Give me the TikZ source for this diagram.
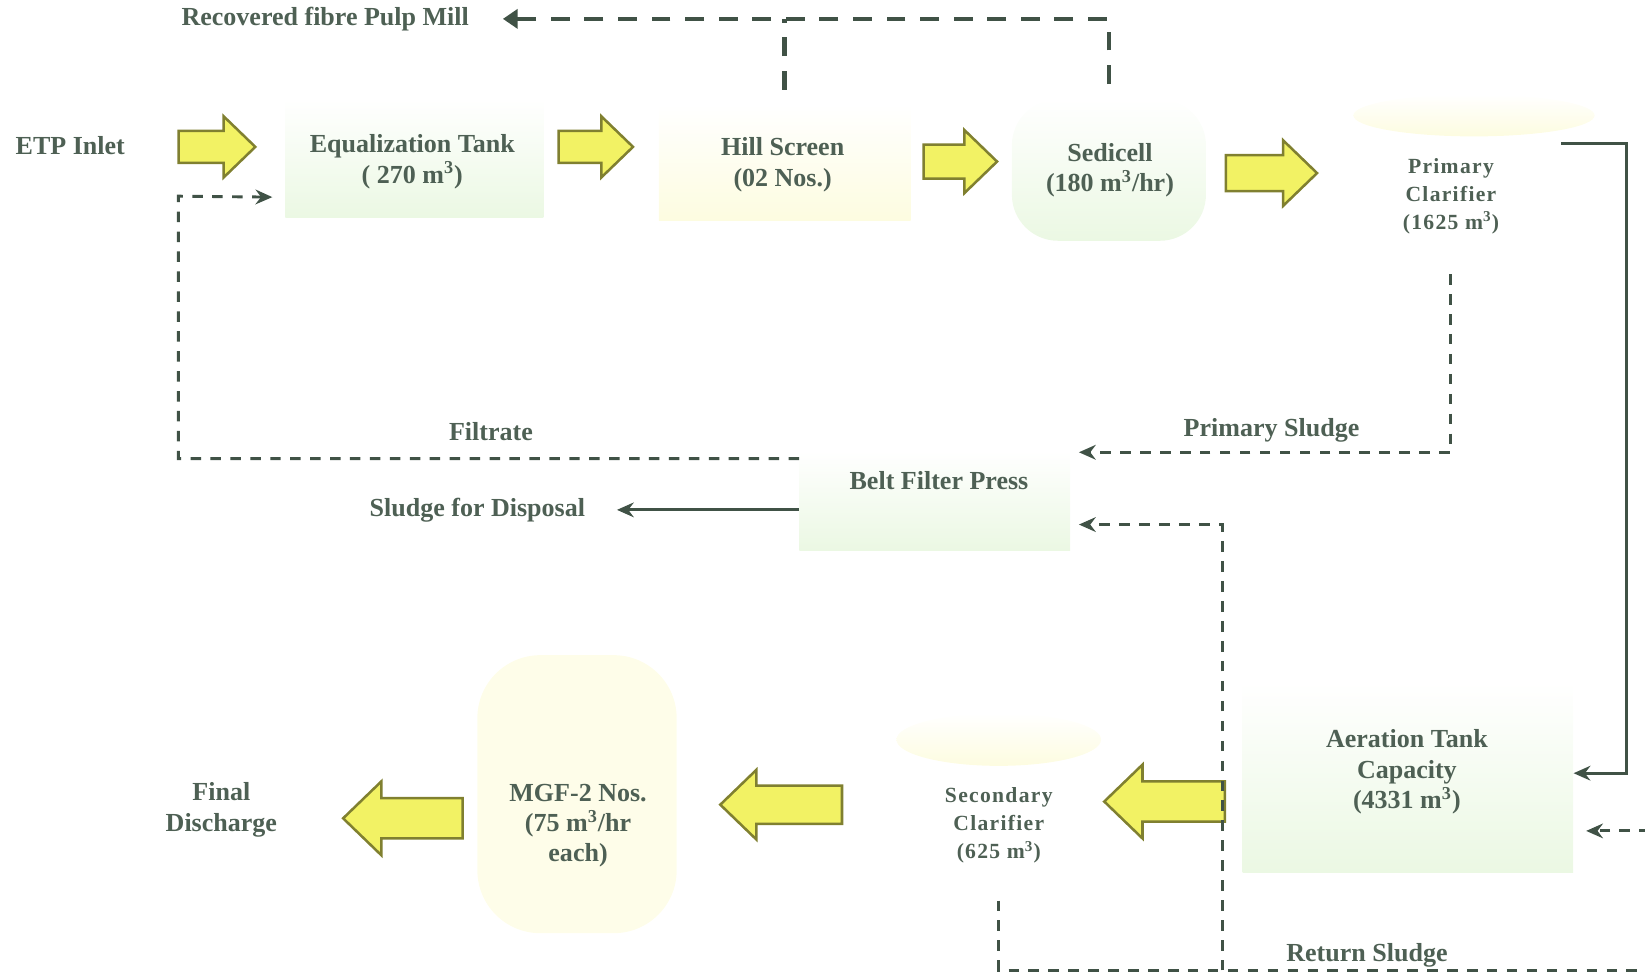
\documentclass[tikz,border=0pt]{standalone}
\usepackage{fontspec}
\setmainfont{Liberation Serif}
\newfontfamily\spacedfont[LetterSpace=6]{Liberation Serif}
\usepackage{tikz}
\usetikzlibrary{shapes.arrows, shapes.geometric, arrows.meta, positioning}
\definecolor{textgrey}{RGB}{78,96,84}
\definecolor{linegrey}{RGB}{64,82,70}
\definecolor{arrowfill}{RGB}{242,242,100}
\definecolor{arrowedge}{RGB}{128,128,48}
\definecolor{tankgreen}{RGB}{235,248,227}
\definecolor{tankyellow}{RGB}{253,252,224}

\begin{document}
\begin{tikzpicture}[
    x=0.5pt, y=-0.5pt,
    txt/.style={font=\fontsize{12.4}{14.5}\selectfont\bfseries, text=textgrey, align=center, inner sep=2pt},
    smalltxt/.style={font=\spacedfont\bfseries\fontsize{10.3}{13.3}\selectfont, text=textgrey, align=center, inner sep=2pt},
    unit/.style={rectangle, draw=none, inner sep=0pt},
    flow/.style={single arrow, draw=arrowedge, fill=arrowfill, line width=1.2pt, inner xsep=0pt, single arrow tip angle=88},
    link/.style={draw=linegrey, line width=1.4pt, -{Stealth[length=8pt, width=7pt]}},
    sludge/.style={link, dash pattern=on 5pt off 4.5pt},
    fibre/.style={draw=linegrey, line width=2.2pt, dash pattern=on 9pt off 7pt, -{Triangle[length=7pt, width=9pt]}}
]
\useasboundingbox (0,0) rectangle (1568,932);

% Tanks (faint backgrounds)
\node[unit, minimum width=123pt, minimum height=56.5pt, top color=white, bottom color=tankgreen] (eqbox) at (395,151) {};
\node[unit, minimum width=120pt, minimum height=55pt, top color=white, bottom color=tankyellow] (hillbox) at (748,155) {};
\node[unit, rounded corners=22pt, minimum width=92.5pt, minimum height=67.5pt, top color=white, bottom color=tankgreen] (sedibox) at (1057,162) {};
\node[ellipse, minimum width=115pt, minimum height=20pt, top color=white, bottom color=tankyellow] (primdish) at (1405,110) {};
\node[unit, minimum width=129pt, minimum height=47.5pt, top color=white, bottom color=tankgreen] (beltbox) at (891,477) {};
\node[unit, minimum width=157.5pt, minimum height=91pt, top color=white, bottom color=tankgreen] (aerbox) at (1342,741) {};
\node[ellipse, minimum width=97.5pt, minimum height=25pt, top color=white, bottom color=tankyellow] (secdish) at (952,705) {};
\node[unit, rounded corners=30pt, minimum width=95pt, minimum height=132.5pt, fill=tankyellow!70] (mgfbox) at (550,757) {};

% Texts
\node[txt] (etp) at (67,139) {ETP Inlet};
\node[txt] (eq) at (393,154) {Equalization Tank\\( 270 m\textsuperscript{3})};
\node[txt] (hill) at (746,157) {Hill Screen\\(02 Nos.)};
\node[txt] (sedi) at (1058,162) {Sedicell\\(180 m\textsuperscript{3}/hr)};
\node[smalltxt] (prim) at (1383,187) {Primary\\Clarifier\\(1625 m\textsuperscript{3})};
\node[txt] (recov) at (310,18) {Recovered fibre Pulp Mill};
\node[txt] (belt) at (895,458) {Belt Filter Press};
\node[txt] (filt) at (468,411) {Filtrate};
\node[txt] (psl) at (1212,410) {Primary Sludge};
\node[txt] (disp) at (455,486) {Sludge for Disposal};
\node[txt] (aer) at (1341,736) {Aeration Tank\\Capacity\\(4331 m\textsuperscript{3})};
\node[smalltxt] (sec) at (952,787) {Secondary\\Clarifier\\(625 m\textsuperscript{3})};
\node[txt] (mgf) at (551,787) {MGF-2 Nos.\\(75 m\textsuperscript{3}/hr\\each)};
\node[txt] (final) at (211,772) {Final\\Discharge};
\node[txt] (rsl) at (1303,911) {Return Sludge};

% Main flow
\node[flow, minimum height=36.5pt, minimum width=28pt, inner ysep=7pt, single arrow head extend=7pt] (a1) at (199,140) {};
\node[flow, minimum height=35.5pt, minimum width=28pt, inner ysep=7pt, single arrow head extend=7pt] (a2) at (560,140) {};
\node[flow, minimum height=35pt, minimum width=29pt, inner ysep=7.5pt, single arrow head extend=7pt] (a3) at (907,154) {};
\node[flow, minimum height=43.5pt, minimum width=30pt, inner ysep=8pt, single arrow head extend=7pt] (a4) at (1203,165) {};
\node[flow, shape border rotate=180, minimum height=57.5pt, minimum width=34pt, inner ysep=9pt, single arrow head extend=8pt] (a5) at (1120,764) {};
\node[flow, shape border rotate=180, minimum height=58pt, minimum width=32.5pt, inner ysep=8.5pt, single arrow head extend=7.5pt] (a6) at (754,767) {};
\node[flow, shape border rotate=180, minimum height=57pt, minimum width=35pt, inner ysep=9pt, single arrow head extend=8pt] (a7) at (394,780) {};

% Recovered fibre
\draw[fibre] ([yshift=7pt]sedibox.north) |- ([xshift=14pt]recov.east);
\draw[fibre, -] ([yshift=7pt]hillbox.north) -- (hillbox.north |- recov.east);

% Sludge lines
\coordinate (filtcorner) at (170,187);
\draw[sludge] ([yshift=-4pt]beltbox.north west) -| (filtcorner) -- ([shift={(-6pt,10pt)}]eqbox.south west);
\draw[sludge] ([yshift=-17pt]prim.south) |- ([shift={(4pt,-1pt)}]beltbox.north east);
\coordinate (wastejoin) at (1165,925);
\draw[sludge] (wastejoin) |- ([shift={(4pt,-11.5pt)}]beltbox.east);
\coordinate (retedge) at (1590,925);
\draw[sludge] ([yshift=-15.5pt]sec.south) |- (retedge) |- ([shift={(6pt,-25.5pt)}]aerbox.east);

% Solid lines
\coordinate (primright) at (1488,137);
\draw[link] (primright) -| ([shift={(25pt,2pt)}]aerbox.east) -- ([yshift=2pt]aerbox.east);
\draw[link] (beltbox.west |- disp.east) -- ([xshift=13pt]disp.east);

\end{tikzpicture}
\end{document}
